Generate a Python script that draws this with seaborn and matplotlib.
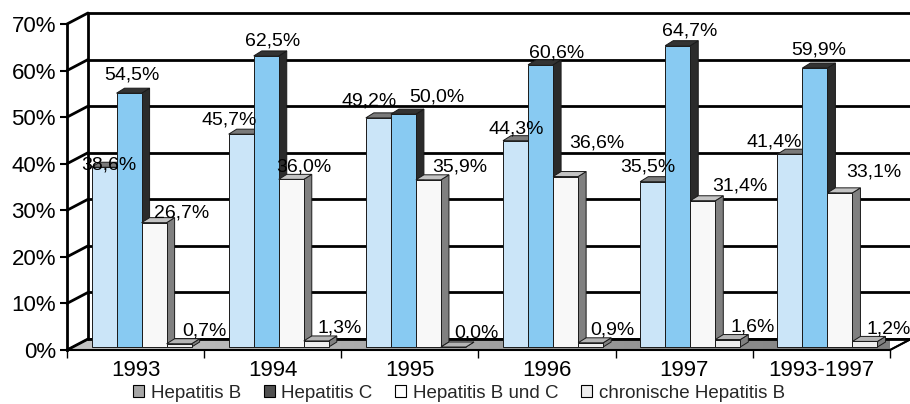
import numpy as np
import pandas as pd
import matplotlib
matplotlib.use('Agg')
import matplotlib.pyplot as plt
import matplotlib.transforms as mtransforms
from matplotlib.patches import Polygon, Patch
from matplotlib.colors import LinearSegmentedColormap
import seaborn as sns

# Daten
years = ['1993', '1994', '1995', '1996', '1997', '1993-1997']
series = ['Hepatitis B', 'Hepatitis C', 'Hepatitis B und C', 'chronische Hepatitis B']
hep_b = [38.6, 45.7, 49.2, 44.3, 35.5, 41.4]
hep_c = [54.5, 62.5, 50.0, 60.6, 64.7, 59.9]
hep_bc = [26.7, 36.0, 35.9, 36.6, 31.4, 33.1]
chron_b = [0.7, 1.3, 0.0, 0.9, 1.6, 1.2]
y_ticks = [0, 10, 20, 30, 40, 50, 60, 70]

# Farben (Vorderseite, Deckel, Seite, Legende)
front_cols = ['#cbe5f8', '#88caf2', '#f8f8f8', '#eeeeee']
top_cols = ['#7a7a7a', '#333333', '#c4c4c4', '#b4b4b4']
side_cols = ['#555555', '#2b2b2b', '#808080', '#808080']
legend_cols = ['#a6a6a6', '#505050', '#ffffff', '#eeeeee']

# Position der Beschriftungen relativ zur Balkenmitte (Pixel)
label_dx = [[5, -12, -9, 1, -5, -16],
            [3, 6, 33, 16, 12, 4],
            [28, 13, 31, 31, 37, 34],
            [25, 23, 23, 22, 25, 24]]
label_dy = [[-2, 10, 12, 7, 10, 8],
            [14, 10, 13, 7, 10, 14],
            [5, 8, 8, 29, 10, 16],
            [8, 8, 10, 8, 8, 8]]

df = pd.DataFrame({
    'year': years * 4,
    'series': np.repeat(series, len(years)),
    'value': hep_b + hep_c + hep_bc + chron_b,
})

sns.set_theme(style='white')
plt.rcParams['font.family'] = ['Liberation Sans', 'DejaVu Sans']

W, H = 910, 404
fig = plt.figure(figsize=(W / 100, H / 100), dpi=100)
x0, x1, y0, y1 = 67, 890, 350, 24
ax = fig.add_axes([x0 / W, (H - y0) / H, (x1 - x0) / W, (y0 - y1) / H])
ax.set_facecolor('none')

xppu = (x1 - x0) / 6.0
yppu = (y0 - y1) / 70.0
ddx, ddy = 21 / xppu, 11 / yppu        # Tiefe der Rückwand
dsx, dsy = 8 / xppu, 5 / yppu          # Tiefe der Balken

sns.barplot(data=df, x='year', y='value', hue='series', hue_order=series,
            palette=front_cols, saturation=1, width=0.73, edgecolor='#1a1a1a',
            linewidth=0.7, legend=False, ax=ax)
ax.set_xlim(-0.5, 5.5)
ax.set_ylim(0, 70)

back_tr = ax.transData + mtransforms.ScaledTranslation(21 / 100, 11 / 100, fig.dpi_scale_trans)
bar_tr = ax.transData + mtransforms.ScaledTranslation(6 / 100, 3 / 100, fig.dpi_scale_trans)

# Rückwand mit Gitterlinien und linke Wand
for t in y_ticks:
    ax.plot([-0.5, 5.5], [t, t], transform=back_tr, color='black', lw=2, clip_on=False, zorder=2)
    ax.plot([-0.5, -0.5 + ddx], [t, t + ddy], color='black', lw=2, clip_on=False, zorder=2)
ax.plot([-0.5, -0.5], [0, 70], transform=back_tr, color='black', lw=2, clip_on=False, zorder=2)

# Boden mit Verlauf
floor = Polygon([(-0.5, 0), (5.5, 0), (5.5 + ddx, ddy), (-0.5 + ddx, ddy)],
                closed=True, facecolor='none', edgecolor='black', lw=1.2, zorder=1.6, clip_on=False)
ax.add_patch(floor)
cmap = LinearSegmentedColormap.from_list('floor', ['#c6c6c6', '#7c7c7c'])
im = ax.imshow(np.linspace(0, 1, 256).reshape(1, -1), cmap=cmap, aspect='auto',
               extent=[-0.5, 5.5 + ddx, 0, ddy], zorder=1.5)
im.set_clip_path(floor)
ax.set_xlim(-0.5, 5.5)
ax.set_ylim(0, 70)

# 3D-Balken
for j, cont in enumerate(ax.containers):
    for i, bar in enumerate(cont):
        bx0 = bar.get_x()
        bx1 = bx0 + bar.get_width()
        h = bar.get_height()
        bar.set_transform(bar_tr)
        bar.set_zorder(3 + j * 0.1 + 0.05)
        side = Polygon([(bx1, 0), (bx1 + dsx, dsy), (bx1 + dsx, h + dsy), (bx1, h)],
                       facecolor=side_cols[j], edgecolor='#1a1a1a', lw=0.7,
                       transform=bar_tr, zorder=3 + j * 0.1, clip_on=False)
        top = Polygon([(bx0, h), (bx1, h), (bx1 + dsx, h + dsy), (bx0 + dsx, h + dsy)],
                      facecolor=top_cols[j], edgecolor='#1a1a1a', lw=0.7,
                      transform=bar_tr, zorder=3 + j * 0.1, clip_on=False)
        ax.add_patch(side)
        ax.add_patch(top)
        txt = f'{h:.1f}'.replace('.', ',') + '%'
        ax.annotate(txt, ((bx0 + bx1) / 2, h),
                    xytext=(label_dx[j][i] + 6, label_dy[j][i] + 3),
                    textcoords='offset pixels', ha='center', va='baseline',
                    fontsize=14, color='black', zorder=10, annotation_clip=False)

# Achsen
for s in ['top', 'right']:
    ax.spines[s].set_visible(False)
ax.spines['left'].set_color('black')
ax.spines['left'].set_linewidth(2)
ax.spines['bottom'].set_color('black')
ax.spines['bottom'].set_linewidth(1.5)
ax.spines['left'].set_zorder(2.5)
ax.spines['bottom'].set_zorder(2.5)
ax.plot([5.5, 5.5 + ddx], [0, ddy], color='black', lw=1.5, clip_on=False, zorder=2.5)

ax.set_yticks(y_ticks)
ax.set_yticklabels([f'{t}%' for t in y_ticks])
ax.tick_params(axis='y', left=True, length=5, width=1.5, color='black', pad=3,
               labelsize=16, labelcolor='black')
ax.set_xticks(range(len(years)))
ax.set_xticklabels(years)
ax.set_xticks(np.arange(-0.5, 6, 1), minor=True)
ax.tick_params(axis='x', which='major', bottom=False, length=0, pad=7,
               labelsize=16, labelcolor='black')
ax.tick_params(axis='x', which='minor', bottom=True, length=6, width=1, color='black')
ax.set_xlabel('')
ax.set_ylabel('')
ax.grid(False)

handles = [Patch(facecolor=c, edgecolor='black', linewidth=0.8, label=s)
           for c, s in zip(legend_cols, series)]
fig.legend(handles=handles, loc='center', bbox_to_anchor=(459 / W, 1 - 393 / H), ncol=4,
           frameon=False, fontsize=13.5, handlelength=0.6, handleheight=0.6,
           handletextpad=0.35, columnspacing=1.2, borderpad=0, borderaxespad=0)

fig.savefig('out.png', dpi=100)
